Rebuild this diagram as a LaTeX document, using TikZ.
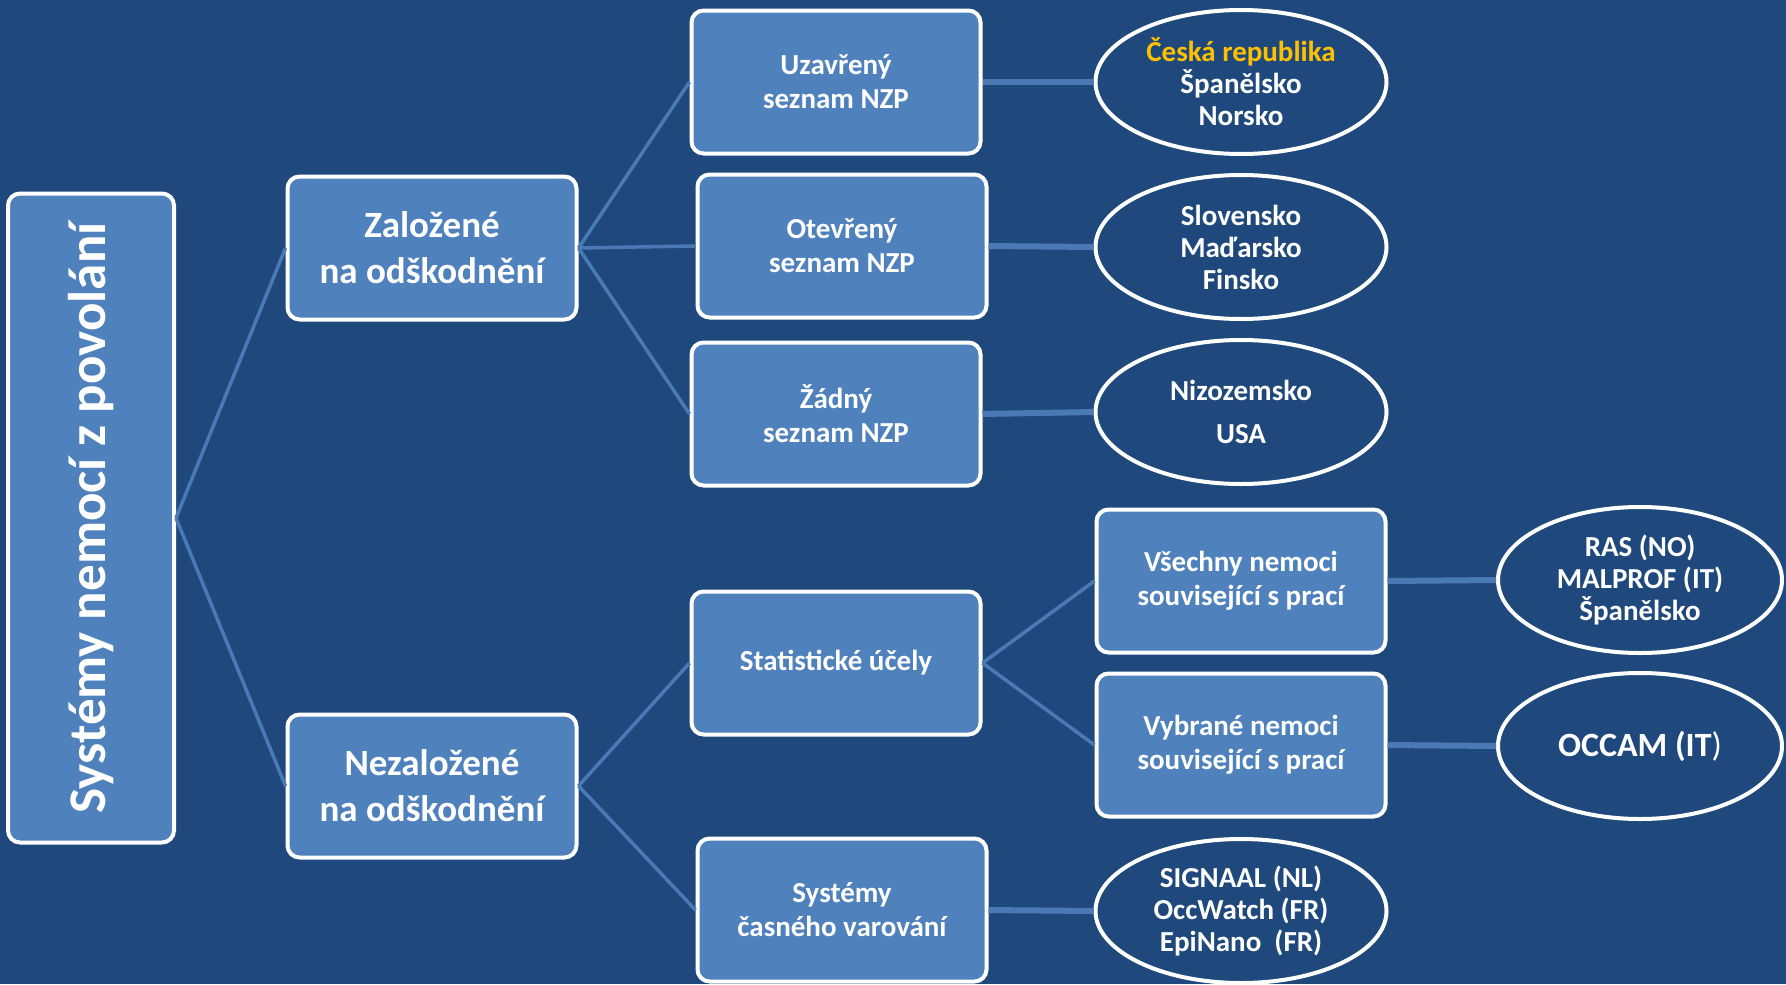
\documentclass[tikz,border=0pt]{standalone}
\usepackage{fontspec}
\setmainfont{Carlito}
\usetikzlibrary{shapes.geometric}
\definecolor{slide}{HTML}{1F497D}
\definecolor{boxblue}{HTML}{4F81BD}
\definecolor{linkblue}{HTML}{4A79B6}
\definecolor{gold}{HTML}{FFC000}

\begin{document}
\begin{tikzpicture}[x=1pt,y=-1pt]
\tikzstyle{recti}=[rectangle,rounded corners=12pt,draw=white,line width=4pt,fill=boxblue,text=white,align=center,minimum width=289pt,minimum height=143pt,inner sep=0pt,font=\bfseries\fontsize{29}{34}\selectfont]
\tikzstyle{ovali}=[ellipse,draw=white,line width=4pt,fill=slide,text=white,align=center,minimum width=291pt,minimum height=144pt,inner sep=0pt,font=\bfseries\fontsize{29}{32}\selectfont]
\tikzstyle{link}=[draw=linkblue,line width=3.5pt]
\tikzstyle{wire}=[draw=linkblue,line width=6pt]
\fill [slide] (0,0) rectangle (1786,984);
\node [recti,minimum width=166pt,minimum height=649pt,font=\bfseries\fontsize{53}{60}\selectfont] (sys) at (91,518) {\rotatebox{90}{Systémy nemocí z povolání}};
\node [recti,font=\bfseries\fontsize{37}{46}\selectfont] (zal) at (432,248) {Založené\\na odškodnění};
\node [recti,font=\bfseries\fontsize{37}{46}\selectfont] (nezal) at (432,786) {Nezaložené\\na odškodnění};
\node [recti] (uzav) at (836,82) {Uzavřený\\seznam NZP};
\node [recti] (otev) at (842,246) {Otevřený\\seznam NZP};
\node [recti] (zadny) at (836,414) {Žádný\\seznam NZP};
\node [recti] (stat) at (836,663) {Statistické účely};
\node [recti] (vsech) at (1241,581) {Všechny nemoci\\související s prací};
\node [recti] (vybr) at (1241,745) {Vybrané nemoci\\související s prací};
\node [recti] (vcas) at (842,910) {Systémy\\časného varování};
\node [ovali] (cz) at (1241,82) {\textcolor{gold}{Česká republika}\\Španělsko\\Norsko};
\node [ovali] (sk) at (1241,247) {Slovensko\\Maďarsko\\Finsko};
\node [ovali,font=\bfseries\fontsize{29}{43}\selectfont] (nl) at (1241,412) {Nizozemsko\\USA};
\node [ovali,minimum width=284pt,minimum height=146pt] (ras) at (1640,580) {RAS (NO)\\MALPROF (IT)\\Španělsko};
\node [ovali,minimum width=284pt,minimum height=146pt,font=\bfseries\fontsize{34}{40}\selectfont] (occam) at (1640,746) {OCCAM (IT{\mdseries )}};
\node [ovali] (signaal) at (1241,911) {SIGNAAL (NL)\\OccWatch (FR)\\EpiNano\ \ (FR)};
\draw [link] (sys.east) -- (zal.west);
\draw [link] (sys.east) -- (nezal.west);
\draw [link] (zal.east) -- (uzav.west);
\draw [link] (zal.east) -- (otev.west);
\draw [link] (zal.east) -- (zadny.west);
\draw [link] (nezal.east) -- (stat.west);
\draw [link] (nezal.east) -- (vcas.west);
\draw [link] (stat.east) -- (vsech.west);
\draw [link] (stat.east) -- (vybr.west);
\draw [wire] (uzav.east) -- (cz.west);
\draw [wire] (otev.east) -- (sk.west);
\draw [wire] (zadny.east) -- (nl.west);
\draw [wire] (vsech.east) -- (ras.west);
\draw [wire] (vybr.east) -- (occam.west);
\draw [wire] (vcas.east) -- (signaal.west);
\end{tikzpicture}
\end{document}
